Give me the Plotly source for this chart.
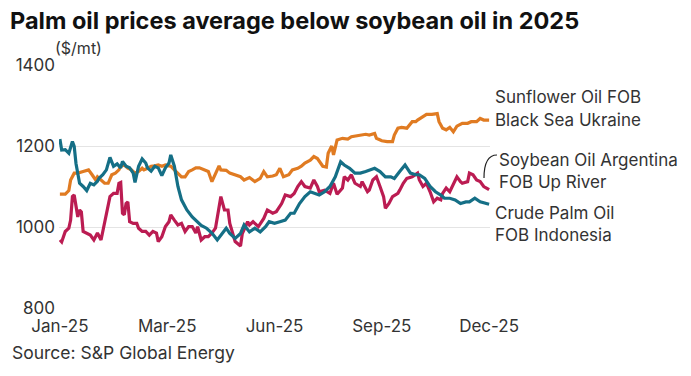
import plotly.graph_objects as go

# ---- data (trading-day index along the year, price in $/mt) ----
tick_vals = [0, 60, 120, 180, 240]
tick_text = ["Jan-25", "Mar-25", "Jun-25", "Sep-25", "Dec-25"]
y_ticks = [800, 1000, 1200, 1400]

sun_days = [0, 3, 5, 6, 8, 10, 13, 16, 18, 20, 21, 23, 25, 27, 29, 31, 33, 34, 36, 38,
            40, 42, 44, 46, 47, 49, 51, 53, 55, 57, 59, 61, 62, 64, 66, 68, 70, 72, 74, 76,
            78, 81, 83, 85, 87, 89, 90, 93,
            95, 98, 101, 103, 106, 109, 112, 114, 116, 119, 121, 123, 125, 128, 130, 133, 135, 137, 140, 142,
            144, 147, 149, 150, 152, 153, 155, 158, 161, 163, 165, 168, 171, 173, 176, 177, 180, 183, 186, 187,
            189, 191, 194, 197, 199, 200, 203, 205, 208, 211, 212, 214, 216, 218, 220, 222, 225, 228, 230, 233,
            235, 237, 240]
sun_vals = [1081, 1081, 1090, 1116, 1133, 1133, 1137, 1141, 1129, 1116, 1124, 1116, 1108, 1108, 1129,
            1133, 1141, 1150, 1153, 1145, 1141, 1133, 1137, 1145, 1141, 1145, 1150, 1151, 1153, 1150,
            1153, 1151, 1150, 1141, 1133, 1124, 1124, 1137, 1141, 1146, 1146, 1141, 1137, 1112, 1133,
            1151, 1141, 1140,
            1133, 1129, 1124, 1116, 1122, 1112, 1120, 1137, 1124, 1126, 1129, 1145, 1124, 1129, 1141,
            1145, 1150, 1158, 1165, 1174, 1169, 1150, 1148, 1182, 1200, 1178, 1215, 1219, 1217, 1223,
            1225, 1227, 1229, 1227, 1231, 1219, 1213, 1211, 1211, 1227, 1244, 1246, 1244, 1260, 1260,
            1264, 1272, 1278, 1278, 1280, 1260, 1244, 1240, 1246, 1235, 1249, 1256, 1256, 1260, 1260,
            1268, 1264, 1264]

soy_days = [0, 1, 3, 5, 6, 7, 8, 10, 11, 12, 13, 15, 17, 19, 21, 23, 25, 26, 28, 30,
            32, 33, 34, 35, 36, 37, 38, 39, 41, 43, 44, 46, 48, 50, 52, 54, 55, 57, 59, 61,
            62, 64, 66, 68, 70, 72, 74, 76, 77, 79, 81, 83, 85, 87, 89, 90, 92, 94,
            95, 98, 101, 102, 105, 106, 108, 111, 114, 116, 119, 121, 124, 126, 129, 131, 133, 135, 137, 140,
            142, 144, 145, 148, 151, 153, 155, 158, 159, 161, 163, 165, 168, 169, 172, 173, 175, 177, 179, 181,
            182, 184, 186, 189, 190, 192, 194, 196, 197, 200, 201, 203, 205, 207, 209, 211, 213, 214, 216, 218,
            220, 222, 224, 225, 228, 229, 231, 233, 235, 237, 240]
soy_vals = [968, 963, 989, 997, 1017, 1075, 1079, 1025, 1042, 1037, 989, 985, 980, 968, 985,
            968, 1013, 1034, 1075, 1083, 1083, 1108, 1110, 1034, 1030, 1058, 1062, 1013, 1009, 1009,
            997, 989, 989, 980, 989, 985, 964, 976, 1001, 1013, 1030, 1017, 1005, 1009, 989,
            1001, 1001, 985, 1001, 968, 976, 976, 985, 997, 1050, 1075, 1042, 1042,
            1009, 964, 953, 984, 1013, 1005, 1013, 1001, 1021, 1042, 1034, 1038, 1058, 1079, 1075,
            1083, 1100, 1112, 1100, 1096, 1116, 1100, 1087, 1091, 1083, 1108, 1081, 1096, 1124, 1116,
            1129, 1108, 1100, 1112, 1087, 1091, 1116, 1124, 1100, 1075, 1046, 1058, 1075, 1083, 1091,
            1108, 1120, 1124, 1124, 1133, 1116, 1100, 1108, 1087, 1062, 1071, 1067, 1083, 1096, 1087,
            1108, 1124, 1112, 1108, 1112, 1133, 1129, 1116, 1112, 1100, 1092]

palm_days = [0, 1, 3, 5, 7, 8, 9, 11, 13, 15, 17, 19, 21, 22, 24, 26, 28, 30, 32, 34,
             35, 37, 39, 41, 42, 44, 46, 48, 49, 51, 53, 55, 57, 59, 61, 62, 64, 66, 68, 71,
             74, 76, 79, 82, 85, 88, 90, 91, 93,
             95, 98, 101, 103, 106, 109, 112, 115, 117, 120, 123, 126, 129, 131, 134, 137, 140, 143, 145, 148,
             151, 154, 157, 159, 162, 165, 168, 171, 173, 176, 179, 182, 185, 187, 190, 193, 196, 199, 201, 204,
             207, 210, 213, 215, 218, 221, 224, 227, 229, 232, 235, 240]
palm_vals = [1217, 1190, 1191, 1182, 1211, 1199, 1157, 1108, 1100, 1090, 1108, 1104, 1113, 1121, 1129,
             1141, 1172, 1150, 1156, 1146, 1162, 1150, 1146, 1133, 1110, 1150, 1168, 1158, 1146, 1138,
             1150, 1146, 1127, 1146, 1158, 1178, 1150, 1100, 1067, 1042, 1025, 1017, 1004, 997, 985,
             968, 980, 988, 997,
             984, 972, 984, 1005, 988, 997, 988, 1001, 1013, 1009, 1013, 1017, 1034, 1034, 1058,
             1075, 1087, 1083, 1079, 1087, 1100, 1124, 1161, 1153, 1145, 1133, 1133, 1137, 1141, 1145,
             1137, 1124, 1124, 1120, 1137, 1153, 1133, 1129, 1129, 1120, 1100, 1087, 1079, 1071, 1071,
             1067, 1058, 1062, 1062, 1071, 1062, 1056]

series = [
    ("Sunflower Oil FOB<br>Black Sea Ukraine", sun_days, sun_vals, "#E07B22"),
    ("Soybean Oil Argentina<br>FOB Up River", soy_days, soy_vals, "#BB1C52"),
    ("Crude Palm Oil<br>FOB Indonesia", palm_days, palm_vals, "#156F86"),
]

FONT = "Inter"
TXT = "#333333"

fig = go.Figure()
for name, xs, ys, col in series:
    fig.add_trace(go.Scatter(x=xs, y=ys, mode="lines", name=name,
                             line=dict(color=col, width=3.2), showlegend=False,
                             hoverinfo="skip"))

L, R, T, B = 59, 201, 65, 68
fig.update_layout(
    width=691, height=376,
    margin=dict(l=L, r=R, t=T, b=B),
    paper_bgcolor="white", plot_bgcolor="white",
    font=dict(family=FONT, color=TXT, size=16),
    title=dict(text="<b>Palm oil prices average below soybean oil in 2025</b>",
               x=10 / 691, xanchor="left", xref="container",
               y=1 - 21 / 376, yanchor="middle", yref="container",
               font=dict(family=FONT, size=23.5, color="#111111")),
    xaxis=dict(range=[-0.5, 240.5], tickmode="array", tickvals=tick_vals, ticktext=tick_text,
               showgrid=False, zeroline=False, showline=False, ticks="",
               ticklabelstandoff=6, automargin=False,
               tickfont=dict(size=17, color=TXT)),
    yaxis=dict(range=[800, 1400], tickvals=y_ticks, showgrid=True, gridcolor="#e4e4e4",
               gridwidth=1, zeroline=False, showline=False, ticks="", automargin=False,
               ticklabelstandoff=3,
               tickfont=dict(size=17, color=TXT)),
)

pw = 691 - L - R
ph = 376 - T - B

def px(x):
    return (x - L) / pw

def py(y):
    return (376 - B - y) / ph

annos = [
    ("($/mt)", 53, 48, 16),
    ("Sunflower Oil FOB", 493, 97, 17),
    ("Black Sea Ukraine", 493, 120, 17),
    ("Soybean Oil Argentina", 497, 160, 17),
    ("FOB Up River", 497, 182, 17),
    ("Crude Palm Oil", 493, 213, 17),
    ("FOB Indonesia", 493, 235, 17),
    ("Source: S&P Global Energy", 10, 352, 17.5),
]
for text, x, y, s in annos:
    fig.add_annotation(text=text, x=px(x), y=py(y), xref="paper", yref="paper",
                       xanchor="left", yanchor="middle", showarrow=False,
                       font=dict(family=FONT, size=s, color=TXT))

fig.add_shape(type="path", xref="paper", yref="paper",
              path=f"M {px(497)},{py(155)} Q {px(484)},{py(155)} {px(484)},{py(178)}",
              line=dict(color="#222222", width=1.2))

fig.write_html("out.html", config={"displayModeBar": False},
               post_script="document.body.style.margin='0';document.body.style.padding='0';")
